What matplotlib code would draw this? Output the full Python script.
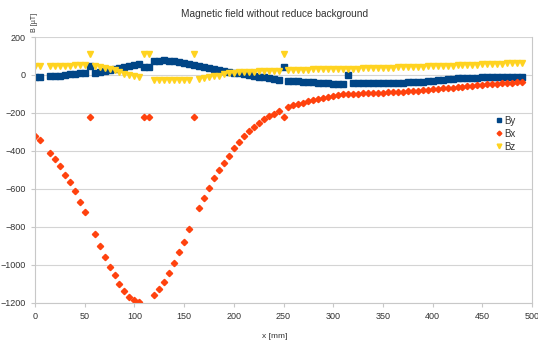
import matplotlib
matplotlib.use("Agg")
import matplotlib.pyplot as plt

plt.rcParams["font.family"] = ["Liberation Sans", "DejaVu Sans"]

# positions along the track [mm]
x_mm = [0, 5] + list(range(15, 495, 5))

by = [-8, -8,
      -5, -5, -3, 0, 3, 5, 8, 12, 45, 12, 15, 20, 25, 30, 36, 42, 48, 54, 60,
      42, 42, 74, 76, 77, 76, 72, 68, 63, 58, 52, 47, 42, 36, 31, 26, 21, 16, 12,
      8, 4, 0, -4, -8, -12, -16, -20, -24, 43, -30, -32, -34, -36, -38, -39, -41, -42,
      -44, -45, -47, -48, -2, -40, -40, -41, -41, -42, -42, -42, -42, -42, -41, -40,
      -39, -38, -37, -35, -32, -30, -27, -24, -22, -20, -18, -17, -16, -15, -14, -13,
      -13, -12, -12, -11, -11, -10, -10, -10]

bx = [-320, -345,
      -410, -445, -480, -525, -565, -610, -670, -720, -222, -838, -900, -958, -1010,
      -1056, -1100, -1137, -1168, -1186, -1196, -222, -222, -1161, -1130, -1090, -1042,
      -993, -935, -879, -810, -222, -703, -647, -597, -545, -501, -462, -425, -385, -352,
      -322, -295, -272, -252, -233, -217, -204, -192, -224, -168, -160, -152, -145,
      -138, -132, -126, -120, -115, -110, -106, -102, -100, -99, -98, -97, -96, -95,
      -94, -93, -92, -90, -89, -88, -86, -84, -82, -80, -78, -75, -73, -71, -69, -67,
      -65, -62, -60, -58, -55, -52, -50, -48, -46, -44, -42, -40, -38, -36]

bz = [48, 45,
      45, 48, 48, 50, 50, 52, 55, 55, 112, 45, 40, 35, 30, 25, 15, 5, 0, -5, -10,
      112, 112, -25, -27, -28, -28, -28, -28, -27, -25, 112, -20, -15, -10, -6, -3, 3,
      8, 12, 14, 16, 17, 18, 19, 20, 21, 22, 23, 112, 25, 26, 27, 28, 28, 29, 29, 30, 30,
      31, 31, 32, 33, 33, 34, 35, 35, 36, 37, 37, 38, 39, 40, 40, 41, 42, 43, 44, 45,
      46, 47, 48, 49, 50, 51, 52, 53, 54, 55, 56, 57, 58, 59, 60, 61, 62, 63, 64]

fig = plt.figure(figsize=(5.38, 3.43), dpi=100)
ax = fig.add_axes([0.065, 0.1175, 0.924, 0.7745])

ax.plot(x_mm, by, ls="none", marker="s", ms=4.3, color="#004586", label="By")
ax.plot(x_mm, bx, ls="none", marker="D", ms=3.2, color="#ff420e", label="Bx")
ax.plot(x_mm, bz, ls="none", marker="v", ms=4.5, color="#ffd320", label="Bz")

ax.set_xlim(0, 500)
ax.set_ylim(-1200, 200)
ax.set_xticks(range(0, 501, 50))
ax.set_yticks(range(-1200, 201, 200))
ax.grid(axis="y", color="#d4d4d4", lw=0.8)
ax.set_axisbelow(True)
for side in ax.spines.values():
    side.set_color("#c8c8c8")
    side.set_linewidth(0.8)
ax.spines["top"].set_visible(False)
ax.tick_params(labelsize=6.5, colors="#c8c8c8", labelcolor="#333333", length=3, width=0.8)

fig.text(0.51, 0.958, "Magnetic field without reduce background", ha="center", va="center",
         fontsize=7.3, color="#333333")
fig.text(0.064, 0.935, "B [µT]", rotation=90, ha="center", va="center", fontsize=5, color="#333333")
fig.text(0.51, 0.018, "x [mm]", ha="center", va="center", fontsize=6, color="#333333")

ax.legend(loc="upper left", bbox_to_anchor=(0.92, 0.718), frameon=False, fontsize=7,
          handlelength=0.5, handletextpad=0.3, labelspacing=0.3, borderaxespad=0,
          markerscale=0.75, labelcolor="#333333")

fig.savefig("out.png", dpi=100)
